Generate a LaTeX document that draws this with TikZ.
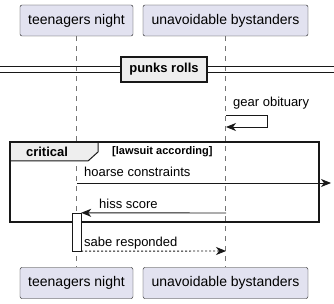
\documentclass[tikz,border=0pt]{standalone}
\usepackage{fontspec}
\setmainfont{Liberation Sans}
\usetikzlibrary{arrows.meta, positioning}
\definecolor{partfill}{HTML}{E2E2F0}
\definecolor{linecol}{HTML}{181818}
\definecolor{groupfill}{HTML}{EEEEEE}

\begin{document}
\begin{tikzpicture}[
  x=1pt, y=-1pt,
  actor/.style={draw=linecol, fill=partfill, rounded corners=2pt, minimum height=31pt, inner sep=0pt, font=\fontsize{14}{16}\selectfont},
  life/.style={draw=linecol!60, dash pattern=on 5pt off 5pt, line width=0.5pt},
  msg/.style={-{Stealth[length=10pt,width=8pt,inset=3pt]}, line width=0.9pt, draw=linecol},
  reply/.style={msg, dash pattern=on 2pt off 2pt},
  lbl/.style={anchor=base west, inner sep=0pt, font=\fontsize{13}{15}\selectfont},
  bold/.style={inner sep=0pt, font=\fontsize{13}{15}\selectfont\bfseries}
]
\useasboundingbox (0,0) rectangle (334,304);

% participants, head and foot
\node[actor, minimum width=113pt] (teenTop) at (76.5,20.5) {teenagers night};
\node[actor, minimum width=165pt] (bystTop) at (225.5,20.5) {unavoidable bystanders};
\node[actor, minimum width=113pt] (teenBot) at (76.5,283) {teenagers night};
\node[actor, minimum width=165pt] (bystBot) at (225.5,283) {unavoidable bystanders};

\draw[life] (teenTop.south) -- (teenBot.north);
\draw[life] (bystTop.south) -- (bystBot.north);

% separator
\draw[linecol, line width=1pt] (0,67) -- (334,67);
\draw[linecol, line width=1pt] (0,73) -- (334,73);
\node[draw=linecol, line width=1.5pt, fill=groupfill, minimum width=86pt, minimum height=25pt, bold] (divider) at (164,69.5) {punks rolls};

% self message
\coordinate (gearA) at (226,115);
\coordinate (gearB) at (226,127);
\draw[msg] (gearA) -- ++(41,0) -- ++(0,12) -- (gearB);
\node[lbl] (gearTxt) at (233,107) {gear obituary};

% critical group
\filldraw[fill=groupfill, draw=linecol, line width=1pt] (10,142) -- (98,142) -- (98,152) -- (88,161) -- (10,161) -- cycle;
\draw[linecol, line width=1.5pt] (10,142) rectangle (319,222);
\node[bold] (critTxt) at (47,151.5) {critical};
\node[anchor=west, inner sep=0pt, font=\fontsize{11}{13}\selectfont\bfseries] (guardTxt) at (112,152) {[lawsuit according]};

\coordinate (hoarseA) at (77,183);
\coordinate (hoarseB) at (331,183);
\draw[msg] (hoarseA) -- (hoarseB);
\node[lbl] (hoarseTxt) at (84,177) {hoarse constraints};

% activation
\node[draw=linecol, fill=white, minimum width=9pt, minimum height=38pt, inner sep=0pt] (teenAct) at (76.5,232) {};

\coordinate (hissA) at (226,213);
\draw[msg] (hissA) -- (teenAct.north east);
\node[lbl] (hissTxt) at (99,208) {hiss score};

\coordinate (sabeB) at (226,251);
\draw[reply] (teenAct.south east) -- (sabeB);
\node[lbl] (sabeTxt) at (84,246) {sabe responded};
\end{tikzpicture}
\end{document}
